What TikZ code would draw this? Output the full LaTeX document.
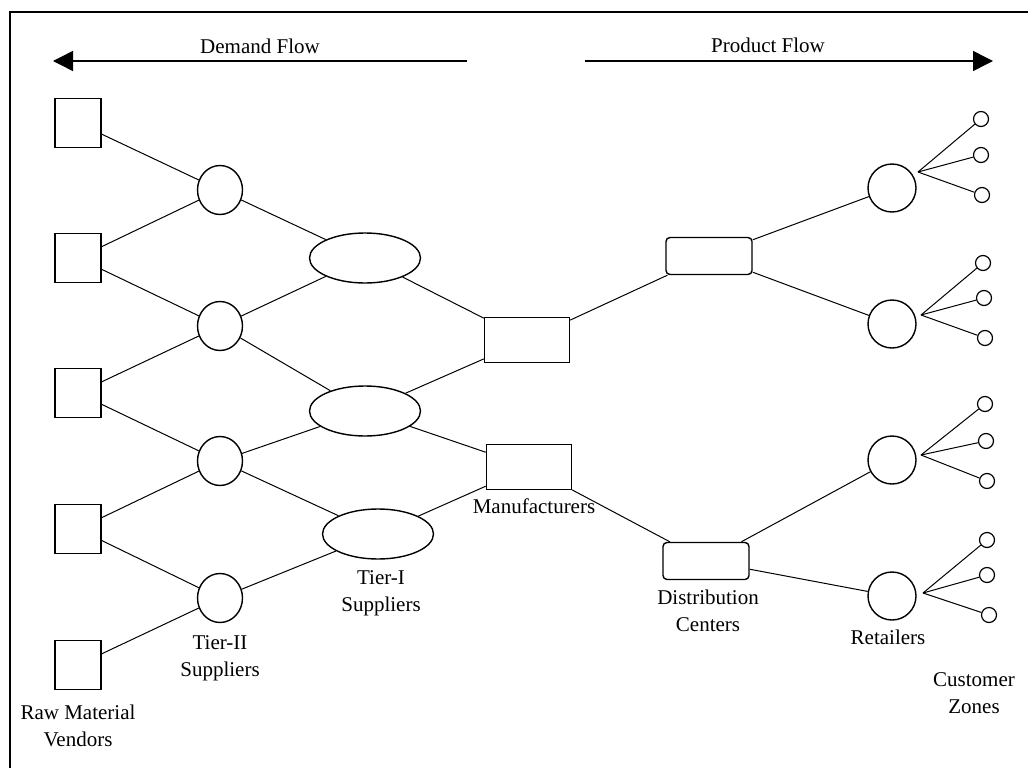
\documentclass[tikz,border=0pt]{standalone}
\usepackage{fontspec}
\setmainfont{Liberation Serif}
\usetikzlibrary{shapes.geometric,arrows.meta}

\begin{document}
\begin{tikzpicture}[x=1pt,y=-1pt,
	vendor/.style={draw,line width=1.4pt,minimum width=46pt,minimum height=49pt,inner sep=0pt},
	tiertwo/.style={draw,ellipse,line width=1.4pt,minimum width=45pt,minimum height=49pt,inner sep=0pt},
	tierone/.style={draw,ellipse,line width=1.4pt,minimum width=111pt,minimum height=50pt,inner sep=0pt},
	plant/.style={draw,line width=1.4pt,minimum width=85pt,minimum height=45pt,inner sep=0pt},
	depot/.style={draw,rounded corners=4pt,line width=1.4pt,minimum width=86pt,minimum height=37pt,inner sep=0pt},
	shop/.style={draw,circle,line width=1.4pt,minimum size=48pt,inner sep=0pt},
	zone/.style={draw,circle,line width=1.2pt,minimum size=15pt,inner sep=0pt},
	link/.style={line width=1pt},
	flow/.style={line width=1.5pt,-{Triangle[length=20pt,width=20pt]}},
	caption/.style={anchor=north,align=center,inner sep=0pt,font=\fontsize{21}{27}\selectfont}]

	\useasboundingbox (0,0) rectangle (1028,768);
	\draw[line width=2pt] (10,768) |- (1028,12);


	\coordinate (demand from) at (467,61);
	\coordinate (demand to) at (53,61);
	\coordinate (product from) at (585,61);
	\coordinate (product to) at (993,61);
	\draw[flow] (demand from) -- (demand to);
	\draw[flow] (product from) -- (product to);
	\node[caption] (demand) at (260,39) {Demand Flow};
	\node[caption] (product) at (768,38) {Product Flow};


	\foreach \i/\y in {1/123,2/258,3/393,4/529,5/665}
		\node[vendor] (v\i) at (78,\y) {};
	\foreach \i/\y in {1/190,2/326,3/461,4/598}
		\node[tiertwo] (t\i) at (220,\y) {};
	\node[tierone] (e1) at (365,258) {};
	\node[tierone] (e2) at (365,411) {};
	\node[tierone] (e3) at (378,534) {};
	\node[plant] (m1) at (527,340) {};
	\node[plant] (m2) at (529,467) {};
	\node[depot] (d1) at (709,256) {};
	\node[depot] (d2) at (706,561) {};
	\foreach \i/\y in {1/188,2/324,3/460,4/596}
		\node[shop] (r\i) at (892,\y) {};


	\foreach \a/\b in {v1/t1,v2/t1,v2/t2,v3/t2,v3/t3,v4/t3,v4/t4,v5/t4,
			t1/e1,t2/e1,t2/e2,t3/e2,t3/e3,t4/e3,
			e1/m1,e2/m1,e2/m2,e3/m2,
			m1/d1,m2/d2,
			d1/r1,d1/r2,d2/r3,d2/r4}
		\draw[link] (\a) -- (\b);


	\coordinate (h1) at (918,172);
	\coordinate (h2) at (921,315);
	\coordinate (h3) at (921,455);
	\coordinate (h4) at (923,593);
	\foreach \i/\j/\x/\y in {1/1/981/119,1/2/981/155,1/3/982/195,
			2/1/983/263,2/2/984/298,2/3/985/338,
			3/1/985/404,3/2/986/441,3/3/987/481,
			4/1/987/540,4/2/987/575,4/3/989/615}
	{
		\node[zone] (z\i\j) at (\x,\y) {};
		\draw[link] (h\i) -- (z\i\j);
	}


	\node[caption] (vendors) at (78,705) {Raw Material\\Vendors};
	\node[caption] (tier two) at (220,635) {Tier-II\\Suppliers};
	\node[caption] (tier one) at (381,570) {Tier-I\\Suppliers};
	\node[caption] (makers) at (534,499) {Manufacturers};
	\node[caption] (centers) at (708,590) {Distribution\\Centers};
	\node[caption] (retail) at (888,630) {Retailers};
	\node[caption] (zones) at (974,672) {Customer\\Zones};


\end{tikzpicture}
\end{document}
